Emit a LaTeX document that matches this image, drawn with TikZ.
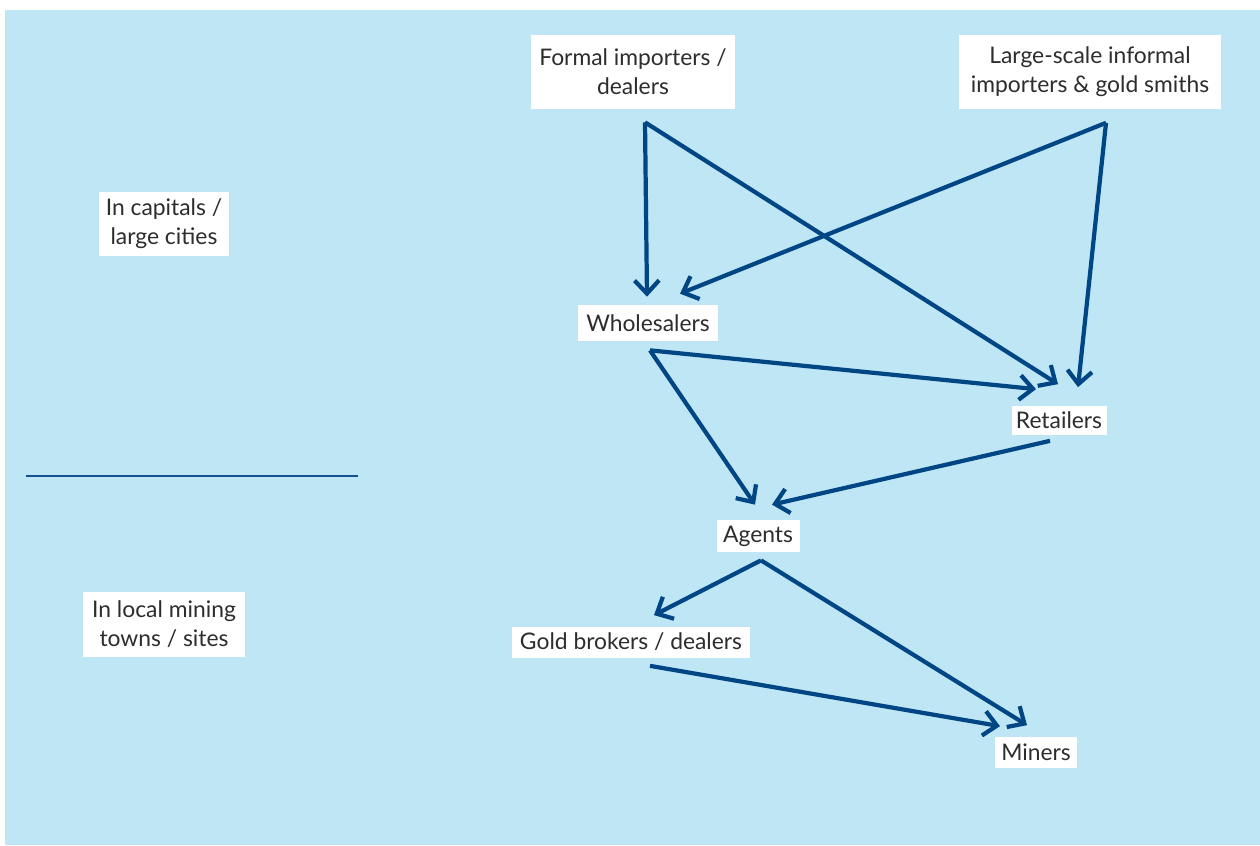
\documentclass[tikz,border=0pt]{standalone}
\usepackage{fontspec}
\setmainfont{Lato}
\usetikzlibrary{arrows.meta}
\definecolor{skyback}{RGB}{191,230,244}
\definecolor{flowblue}{RGB}{0,70,133}
\definecolor{rulerblue}{RGB}{20,80,150}
\definecolor{labelgray}{RGB}{45,45,45}
\tikzset{
  box/.style={fill=white, inner sep=0pt, align=center, text=labelgray,
    font=\fontsize{13}{16.5}\selectfont},
  flow/.style={draw=flowblue, line width=2.4pt,
    -{Straight Barb[length=7.5pt,width=14pt]}}
}
\begin{document}
\begin{tikzpicture}[x=0.02cm,y=-0.02cm]
   \useasboundingbox (0,0) rectangle (1260,845);
   \fill[skyback] (5,10) rectangle (1260,845);
   % levels
   \node[box, minimum width=2.6cm, minimum height=1.3cm] (cap) at (164,224) {In capitals /\\large cities};
   \node[box, minimum width=3.26cm, minimum height=1.3cm] (loc) at (164,624) {In local mining\\towns / sites};
   \draw[rulerblue, line width=0.8pt] (26,476) -- (358,476);
   % actors
   \node[box, minimum width=4.08cm, minimum height=1.48cm] (fi) at (633,72) {Formal importers /\\dealers};
   \node[box, minimum width=5.26cm, minimum height=1.5cm] (lg) at (1090,72) {Large-scale informal\\importers \& gold smiths};
   \node[box, minimum width=2.8cm, minimum height=0.72cm] (ws) at (648,323) {Wholesalers};
   \node[box, minimum width=1.9cm, minimum height=0.58cm] (rt) at (1059,420) {Retailers};
   \node[box, minimum width=1.66cm, minimum height=0.64cm] (ag) at (758,536) {Agents};
   \node[box, minimum width=4.76cm, minimum height=0.62cm] (gb) at (631,642) {Gold brokers / dealers};
   \node[box, minimum width=1.64cm, minimum height=0.62cm] (mn) at (1036,752) {Miners};
   % flows
   \draw[flow] ([shift={(12,13)}]fi.south) -- ([shift={(-1,-8)}]ws.north);
   \draw[flow] ([shift={(12,13)}]fi.south) -- ([shift={(-1,-21)}]rt.north);
   \draw[flow] ([shift={(16,13)}]lg.south) -- ([shift={(32,-11)}]ws.north);
   \draw[flow] ([shift={(16,13)}]lg.south) -- ([shift={(19,-18)}]rt.north);
   \draw[flow] ([shift={(2,9)}]ws.south) -- ([shift={(-23,-16)}]rt.north);
   \draw[flow] ([shift={(2,9)}]ws.south) -- ([shift={(-3,-15)}]ag.north);
   \draw[flow] ([shift={(-9,6)}]rt.south) -- ([shift={(14,-15)}]ag.north);
   \draw[flow] ([shift={(3,8)}]ag.south) -- ([shift={(23,-11)}]gb.north);
   \draw[flow] ([shift={(3,8)}]ag.south) -- ([shift={(-9,-11)}]mn.north);
   \draw[flow] ([shift={(19,8)}]gb.south) -- ([shift={(-36,-10)}]mn.north);
\end{tikzpicture}
\end{document}
